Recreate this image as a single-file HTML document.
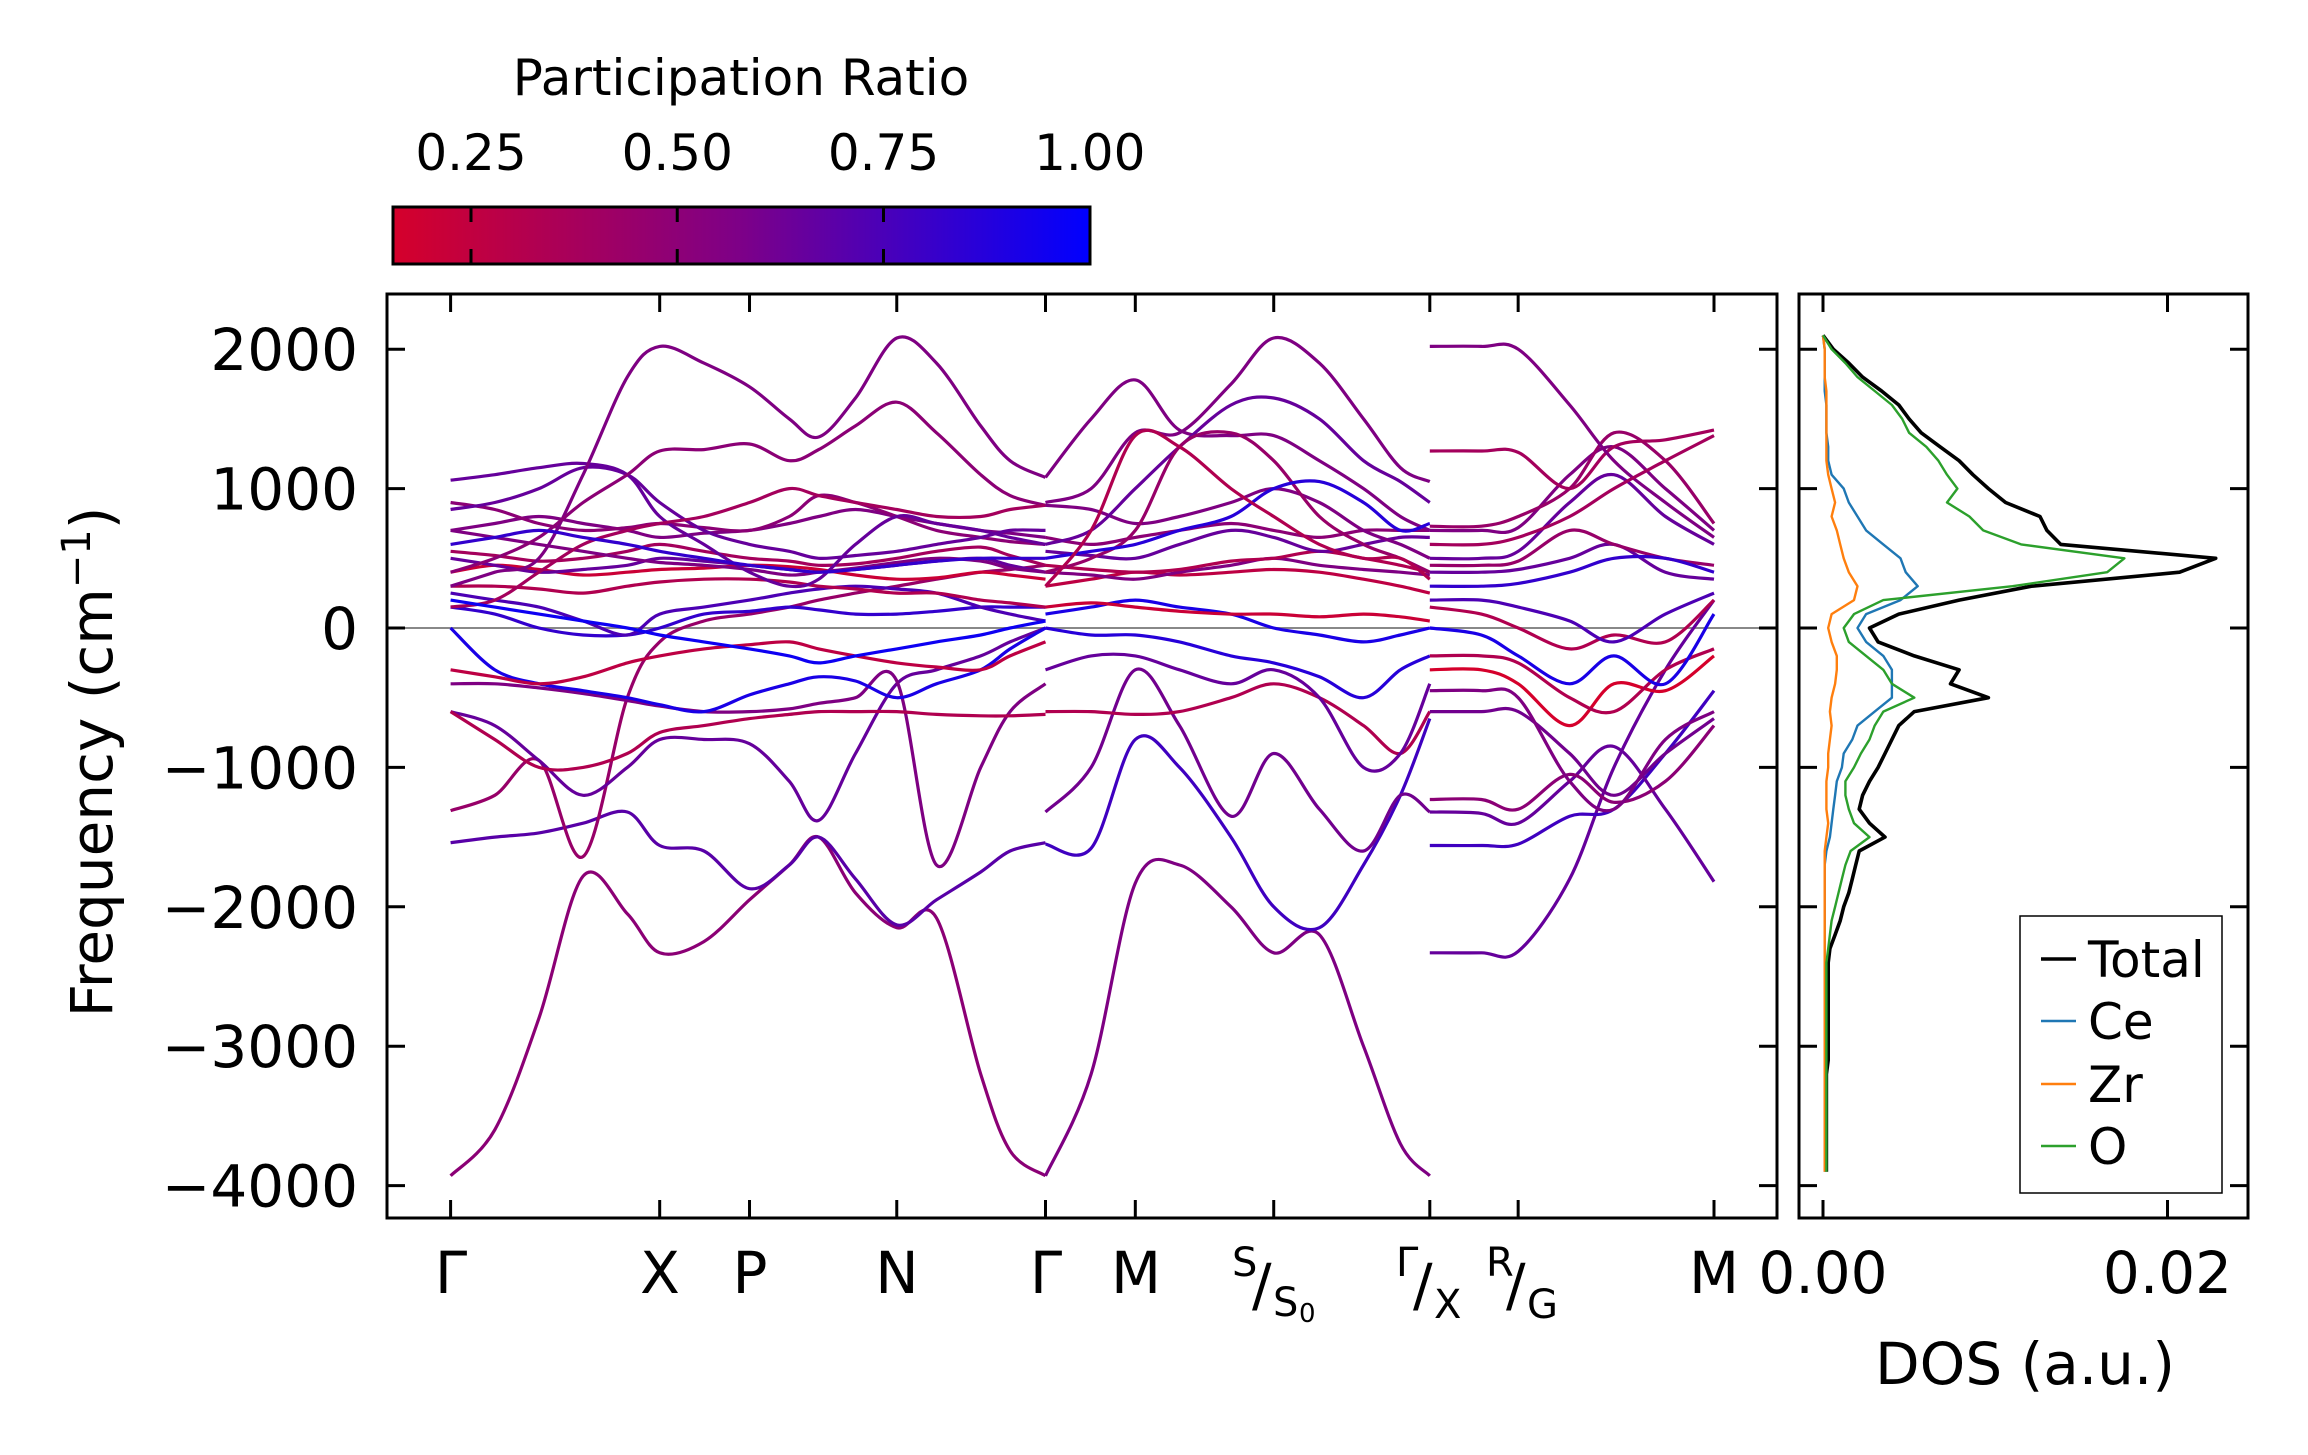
<!DOCTYPE html>
<html><head><meta charset="utf-8">
<style>
html,body{margin:0;padding:0;background:#fff;}
svg{display:block;font-family:"DejaVu Sans","Liberation Sans",sans-serif;}
</style></head>
<body>
<svg id="fig" width="2308" height="1455" viewBox="0 0 2308 1455" xmlns="http://www.w3.org/2000/svg">
<defs>
<linearGradient id="cbgrad" x1="0" x2="1" y1="0" y2="0">
<stop offset="0" stop-color="#d5002b"/><stop offset="0.5" stop-color="#7d0088"/><stop offset="1" stop-color="#0000ff"/>
</linearGradient>
<clipPath id="mainclip"><rect x="387" y="294" width="1390" height="924"/></clipPath>
<clipPath id="dosclip"><rect x="1799" y="294" width="449" height="924"/></clipPath>
</defs>
<rect x="0" y="0" width="2308" height="1455" fill="#fff"/>
<g id="colorbar">
<text x="741" y="95" font-size="50" text-anchor="middle">Participation Ratio</text>
<rect x="393" y="207" width="697" height="57" fill="url(#cbgrad)" stroke="#000" stroke-width="3"/>
</g>
<g id="bands" clip-path="url(#mainclip)"></g>
<g id="dos" clip-path="url(#dosclip)"></g>
<g id="axes"></g>
</svg>
<script>
// ---------- data ----------
const cbTicks = [0.25, 0.50, 0.75, 1.00];
const cbTickLabels = ["0.25", "0.50", "0.75", "1.00"];
const yTicks = [2000, 1000, 0, -1000, -2000, -3000, -4000];
const yTickLabels = ["2000", "1000", "0", "\u22121000", "\u22122000", "\u22123000", "\u22124000"];
const pathTicks = [0, 142, 203, 303, 404, 465, 559, 665, 725, 858];
const segAk = [0,30,60,90,120,142,172,203,230,250,275,303,330,360,380,404];
const segBk = [404,435,465,495,530,559,590,620,645,665];
const segCk = [665,700,725,760,790,825,858];
const bandsA = [
[-3930,-3600,-2800,-1780,-2050,-2330,-2250,-1950,-1700,-1500,-1900,-2150,-2080,-3200,-3750,-3930],
[-1540,-1500,-1470,-1400,-1320,-1560,-1600,-1870,-1700,-1500,-1800,-2130,-1950,-1750,-1600,-1540],
[-1310,-1200,-950,-1640,-500,-100,50,100,150,200,250,300,350,400,420,450],
[-600,-700,-950,-1200,-1000,-800,-800,-830,-1100,-1380,-900,-400,-300,-200,-100,0],
[-400,-400,-430,-470,-520,-560,-600,-600,-580,-540,-500,-380,-1700,-1000,-600,-400],
[-600,-800,-1000,-1000,-900,-750,-700,-650,-620,-600,-600,-600,-620,-630,-630,-620],
[0,-300,-400,-450,-500,-550,-600,-480,-400,-350,-380,-500,-400,-300,-150,0],
[-300,-350,-400,-350,-250,-200,-150,-120,-100,-150,-200,-250,-280,-300,-200,-100],
[150,100,0,-50,-50,0,100,120,150,130,100,100,120,150,150,150],
[250,200,150,50,-50,100,150,200,250,280,300,280,250,150,100,50],
[300,300,280,250,300,330,350,350,330,300,280,250,250,200,180,150],
[400,450,420,380,400,420,430,450,440,420,380,350,360,400,380,350],
[500,450,400,420,450,500,480,450,420,400,420,450,480,500,450,400],
[550,520,480,500,550,600,550,500,480,450,460,500,550,580,520,450],
[700,650,600,550,500,470,450,420,380,400,430,470,500,480,430,400],
[700,750,800,750,700,650,680,700,750,800,850,800,750,700,680,650],
[900,850,750,700,720,750,720,700,800,950,900,800,700,650,620,600],
[850,900,1000,1150,1100,900,700,600,550,500,520,550,600,650,700,700],
[1060,1100,1150,1180,1100,800,600,400,300,350,600,800,750,700,650,600],
[300,400,500,1100,1800,2020,1900,1730,1500,1370,1650,2080,1900,1450,1200,1080],
[400,500,650,900,1100,1270,1280,1320,1200,1280,1450,1620,1400,1100,950,880],
[150,200,400,600,700,750,800,900,1000,950,900,850,800,800,850,880],
[600,650,700,650,600,550,500,450,420,400,420,450,480,500,500,500],
[200,150,100,50,0,-50,-100,-150,-200,-250,-200,-150,-100,-50,0,50]
];
const prA = [0.45,0.65,0.4,0.6,0.5,0.3,0.9,0.25,0.8,0.7,0.3,0.2,0.6,0.35,0.5,0.5,0.45,0.6,0.6,0.5,0.45,0.35,0.8,0.95];
const bandsB = [
[-3930,-3200,-1830,-1700,-2000,-2330,-2200,-3000,-3700,-3930],
[-1550,-1580,-800,-1000,-1500,-2000,-2150,-1700,-1200,-650],
[-1320,-1000,-300,-700,-1350,-900,-1300,-1600,-1200,-1320],
[-600,-600,-620,-600,-500,-400,-500,-700,-900,-600],
[-300,-200,-200,-300,-400,-300,-500,-1000,-900,-400],
[0,-50,-50,-100,-200,-250,-350,-500,-300,-200],
[100,150,200,150,100,0,-50,-100,-50,0],
[150,180,150,120,100,100,80,100,80,50],
[300,350,400,380,400,420,400,350,300,250],
[400,380,350,400,450,500,450,420,400,380],
[450,420,400,420,480,500,550,500,450,400],
[550,520,500,600,700,650,550,600,650,650],
[650,600,650,700,750,700,650,700,700,700],
[880,850,750,800,900,1000,900,700,600,500],
[1080,1500,1780,1420,1380,1380,1200,1000,800,700],
[900,1000,1400,1400,1750,2080,1900,1500,1150,1050],
[600,700,1000,1300,1600,1650,1500,1200,1050,900],
[400,500,700,1300,1400,1200,800,600,500,400],
[500,550,600,700,800,1000,1050,900,700,750],
[300,700,1380,1300,1000,800,600,500,500,350]
];
const prB = [0.5,0.75,0.55,0.3,0.6,0.85,0.9,0.2,0.25,0.5,0.3,0.6,0.45,0.5,0.5,0.5,0.6,0.4,0.85,0.3];
const bandsC = [
[-2330,-2330,-2320,-1800,-1000,-300,200],
[-1560,-1560,-1550,-1350,-1300,-900,-450],
[-1320,-1330,-1400,-1100,-850,-1300,-1820],
[-1230,-1230,-1300,-1050,-1250,-1100,-700],
[-600,-600,-600,-900,-1200,-900,-650],
[-450,-450,-500,-1100,-1300,-800,-600],
[-300,-300,-400,-700,-400,-450,-200],
[-200,-200,-250,-500,-600,-300,-150],
[0,-50,-200,-400,-200,-400,100],
[150,100,0,-150,-50,-100,200],
[200,200,150,50,-100,100,250],
[400,400,420,500,600,400,350],
[450,450,480,700,600,500,450],
[500,500,550,900,1100,800,600],
[700,700,720,1100,1300,1000,700],
[730,730,800,1000,1400,1200,750],
[1270,1270,1260,1000,1300,1350,1420],
[2020,2020,2000,1600,1200,900,650],
[600,600,650,800,1000,1200,1380],
[300,300,320,400,500,500,400]
];
const prC = [0.6,0.75,0.6,0.45,0.55,0.5,0.1,0.3,0.9,0.3,0.7,0.6,0.4,0.6,0.5,0.4,0.35,0.5,0.35,0.8];
const dosFreqStart = 2100, dosFreqStep = -100;
const dosTotal = [0,.0006,.0015,.0023,.0034,.0044,.005,.0057,.0068,.0079,.0087,.0096,.0106,.0126,.013,.0138,.0228,.0207,.0121,.0079,.0044,.0027,.0032,.0053,.0079,.0074,.0096,.0053,.0044,.004,.0036,.0032,.0027,.0023,.0021,.0027,.0036,.0021,.0019,.0017,.0015,.0012,.001,.0007,.0004,.0003,.0003,.0003,.0003,.0003,.0003,.0003,.0003,.0002,.0002,.0002,.0002,.0002,.0002,.0002,.0002];
const dosO = [0,.0005,.0013,.002,.003,.004,.0046,.005,.006,.0067,.0072,.0078,.0072,.0085,.0093,.0115,.0175,.0165,.011,.0035,.0018,.0012,.0015,.0025,.0035,.004,.0053,.0035,.003,.0027,.0022,.0018,.0013,.0013,.0015,.0018,.0027,.0016,.0013,.0011,.0009,.0007,.0005,.0004,.0003,.0002,.0002,.0002,.0002,.0002,.0002,.0002,.0002,.0002,.0002,.0002,.0002,.0002,.0002,.0002,.0002];
const dosCe = [0,.0001,.0001,.0001,.0001,.0002,.0002,.0002,.0003,.0003,.0005,.0012,.0015,.002,.0025,.0035,.0045,.0048,.0055,.0045,.0025,.002,.0025,.0035,.004,.004,.004,.003,.002,.0017,.0012,.0011,.0008,.0007,.0006,.0005,.0004,.0002,.0001,.0001,.0001,.0001,.0001,.0001,.0001,.0001,.0001,.0001,.0001,.0001,.0001,.0001,.0001,.0001,.0001,.0001,.0001,.0001,.0001,.0001,.0001];
const dosZr = [0,.0001,.0001,.0001,.0002,.0002,.0002,.0002,.0002,.0002,.0003,.0005,.0007,.0005,.0008,.001,.0012,.0015,.002,.0018,.0005,.0003,.0005,.0008,.0008,.0007,.0005,.0004,.0005,.0004,.0003,.0003,.0002,.0002,.0002,.0003,.0002,.0001,.0001,.0001,.0001,.0001,.0001,.0001,.0001,.0001,.0001,.0001,.0001,.0001,.0001,.0001,.0001,.0001,.0001,.0001,.0001,.0001,.0001,.0001,.0001];
const dosXTicks = [0, 0.02];
const dosXTickLabels = ["0.00", "0.02"];

// ---------- scales ----------
const NS = "http://www.w3.org/2000/svg";
const M = {l:387, r:1777, t:294, b:1218};
const D = {l:1799, r:2248, t:294, b:1218};
const kx = k => 450.6 + k * (1714 - 450.6) / 858;
const fy = f => 628 - f * 0.1394;
const dx = v => 1823 + v * 17225;
const cbx = p => 471 + (p - 0.25) * 825;
function prColor(p){
  const t = Math.max(0, Math.min(1, (p - 0.155) / 0.845));
  const r = Math.round(213 * (1 - t)), g = 0, b = Math.round(43 + (255 - 43) * t);
  return `rgb(${r},${g},${b})`;
}
function el(tag, attrs, parent){
  const e = document.createElementNS(NS, tag);
  for (const k in attrs) e.setAttribute(k, attrs[k]);
  parent.appendChild(e);
  return e;
}
function smoothPath(pts){
  let d = `M${pts[0][0].toFixed(1)},${pts[0][1].toFixed(1)}`;
  for (let i = 0; i < pts.length - 1; i++){
    const p0 = pts[Math.max(0, i-1)], p1 = pts[i], p2 = pts[i+1], p3 = pts[Math.min(pts.length-1, i+2)];
    const c1x = p1[0] + (p2[0]-p0[0])/6, c1y = p1[1] + (p2[1]-p0[1])/6;
    const c2x = p2[0] - (p3[0]-p1[0])/6, c2y = p2[1] - (p3[1]-p1[1])/6;
    d += ` C${c1x.toFixed(1)},${c1y.toFixed(1)} ${c2x.toFixed(1)},${c2y.toFixed(1)} ${p2[0].toFixed(1)},${p2[1].toFixed(1)}`;
  }
  return d;
}

// ---------- bands ----------
const gB = document.getElementById('bands');
const zl = el('line', {x1:M.l, x2:M.r, y1:fy(0), y2:fy(0), stroke:'#888', 'stroke-width':2}, gB);


function drawSeg(ks, bands, prs){
  bands.forEach((vals, i) => {
    const pts = vals.map((f, j) => [kx(ks[j]), fy(f)]);
    const p = el('path', {d: smoothPath(pts), fill:'none', stroke: prColor(prs[i]), 'stroke-width':3.2, 'stroke-linejoin':'round'}, gB);
    
    
  });
}
drawSeg(segAk, bandsA, prA);
drawSeg(segBk, bandsB, prB);
drawSeg(segCk, bandsC, prC);

// ---------- DOS ----------
const gD = document.getElementById('dos');
function dosLine(arr, color, w, name){
  const pts = arr.map((v, i) => `${dx(v).toFixed(1)},${fy(dosFreqStart + dosFreqStep * i).toFixed(1)}`).join(' ');
  const pl = el('polyline', {points: pts, fill:'none', stroke: color, 'stroke-width': w, 'stroke-linejoin':'round'}, gD);
  
  
}
dosLine(dosTotal, '#000', 3.6, 'dos-total-line');
dosLine(dosCe, '#1f77b4', 2.4, 'dos-ce-line');
dosLine(dosZr, '#ff7f0e', 2.4, 'dos-zr-line');
dosLine(dosO, '#2ca02c', 2.4, 'dos-o-line');

// ---------- axes ----------
const gA = document.getElementById('axes');
const cb = document.getElementById('colorbar');
cbTicks.forEach((p, i) => {
  const x = cbx(p);
  if (p < 1) {
    const t1 = el('line', {x1:x, x2:x, y1:207, y2:222, stroke:'#000', 'stroke-width':3}, cb);
    
    
    const t2 = el('line', {x1:x, x2:x, y1:249, y2:264, stroke:'#000', 'stroke-width':3}, cb);
    
    
  }
  const tl = el('text', {x:x, y:170, 'font-size':50, 'text-anchor':'middle'}, cb);
  tl.textContent = cbTickLabels[i];
  
  
});

function frame(R, name){
  const r = el('rect', {x:R.l, y:R.t, width:R.r-R.l, height:R.b-R.t, fill:'none', stroke:'#000', 'stroke-width':3}, gA);
  
  
}
frame(M, 'band-axes-frame');
frame(D, 'dos-axes-frame');
const TL = 18;
function tick(x1,y1,x2,y2){
  const t = el('line', {x1, y1, x2, y2, stroke:'#000', 'stroke-width':3}, gA);
  
  
}
yTicks.forEach((f, i) => {
  const y = fy(f);
  tick(M.l, y, M.l+TL, y); tick(M.r, y, M.r-TL, y);
  tick(D.l, y, D.l+TL, y); tick(D.r, y, D.r-TL, y);
  const t = el('text', {x:358, y:y+21, 'font-size':58, 'text-anchor':'end'}, gA);
  t.textContent = yTickLabels[i];
  
  
});
pathTicks.forEach(k => {
  const x = kx(k);
  tick(x, M.t, x, M.t+TL); tick(x, M.b, x, M.b-TL);
});
dosXTicks.forEach((v, i) => {
  const x = dx(v);
  tick(x, D.t, x, D.t+TL); tick(x, D.b, x, D.b-TL);
  const t = el('text', {x:x, y:1293, 'font-size':58, 'text-anchor':'middle'}, gA);
  t.textContent = dosXTickLabels[i];
  
  
});
</script>
<script>
(function(){
  const NS = "http://www.w3.org/2000/svg";
  const svg = document.getElementById('fig');
  const g = document.createElementNS(NS, 'g');
  svg.appendChild(g);
  g.innerHTML = `
  <g font-size="58" text-anchor="middle">
    <text x="451" y="1293">Γ</text>
    <text x="660" y="1293">X</text>
    <text x="750" y="1293">P</text>
    <text x="897" y="1293">N</text>
    <text x="1046" y="1293">Γ</text>
    <text x="1136" y="1293">M</text>
    <text x="1714" y="1293">M</text>
  </g>
  <g>
    <text x="1232" y="1276" font-size="40">S</text>
    <text x="1252" y="1305" font-size="58">/</text>
    <text x="1273" y="1316" font-size="40">S</text>
    <text x="1299" y="1322" font-size="26">0</text>
  </g>
  <g>
    <text x="1396" y="1276" font-size="40">Γ</text>
    <text x="1413" y="1305" font-size="58">/</text>
    <text x="1434" y="1318" font-size="40">X</text>
  </g>
  <g>
    <text x="1486" y="1276" font-size="40">R</text>
    <text x="1506" y="1305" font-size="58">/</text>
    <text x="1527" y="1318" font-size="40">G</text>
  </g>
  <text x="0" y="0" font-size="58" text-anchor="middle" transform="translate(112,762) rotate(-90)">Frequency (cm<tspan dy="-22" font-size="40">−1</tspan><tspan dy="22">)</tspan></text>
  <text x="2025" y="1384" font-size="58" text-anchor="middle">DOS (a.u.)</text>
  <g>
    <rect x="2020" y="916" width="202" height="277" fill="#fff" stroke="#000" stroke-width="1.5"/>
    <line x1="2041" x2="2076" y1="959" y2="959" stroke="#000" stroke-width="3.6"/>
    <text x="2088" y="977" font-size="50">Total</text>
    <line x1="2041" x2="2076" y1="1021" y2="1021" stroke="#1f77b4" stroke-width="2.4"/>
    <text x="2088" y="1039" font-size="50">Ce</text>
    <line x1="2041" x2="2076" y1="1084" y2="1084" stroke="#ff7f0e" stroke-width="2.4"/>
    <text x="2088" y="1102" font-size="50">Zr</text>
    <line x1="2041" x2="2076" y1="1146" y2="1146" stroke="#2ca02c" stroke-width="2.4"/>
    <text x="2088" y="1164" font-size="50">O</text>
  </g>`;
})();
</script>
</body></html>
